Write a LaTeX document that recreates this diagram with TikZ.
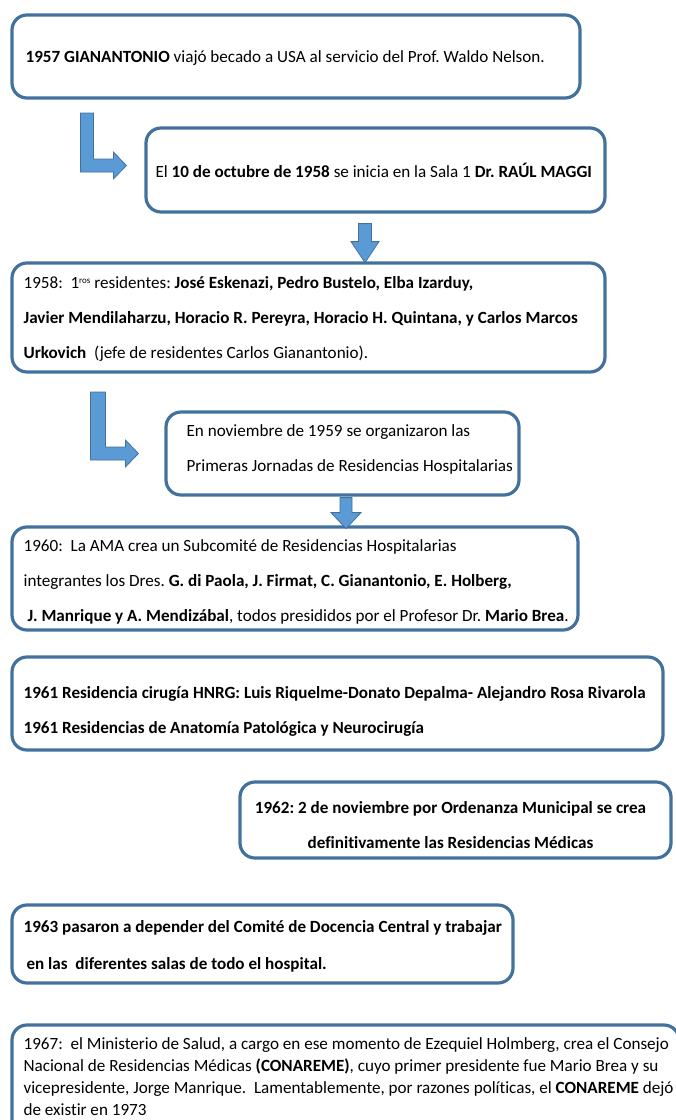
\documentclass[tikz,border=0pt]{standalone}
\usepackage{fontspec}
\setmainfont{Carlito}[Ligatures=NoCommon]
\usetikzlibrary{calc}
\usetikzlibrary{positioning}
\definecolor{boxline}{RGB}{65,113,156}
\definecolor{arrowfill}{RGB}{91,155,213}

\begin{document}
\begin{tikzpicture}[x=1pt, y=-1pt,
        box/.style={draw=boxline, line width=3.2pt, rounded corners=15pt, inner sep=0pt},
        txt/.style={anchor=west, align=left, inner sep=0pt, font=\fontsize{17.1}{35}\selectfont\frenchspacing},
        blockarrow/.style={fill=arrowfill, draw=boxline, line width=0.8pt}]
        \useasboundingbox (0,0) rectangle (676,1120);

        % the boxes
        \node[box, minimum width=568pt, minimum height=83pt] (b1) at (296,56.5) {};
        \node[box, minimum width=459pt, minimum height=84pt] (b2) at (375.5,170) {};
        \node[box, minimum width=593pt, minimum height=109pt] (b3) at (308.5,317.5) {};
        \node[box, minimum width=353pt, minimum height=83pt] (b4) at (342.5,453.5) {};
        \node[box, minimum width=566pt, minimum height=103pt] (b5) at (295,578.5) {};
        \node[box, minimum width=651pt, minimum height=93pt] (b6) at (337.5,703.5) {};
        \node[box, minimum width=431pt, minimum height=76pt] (b7) at (455.5,820) {};
        \node[box, minimum width=501pt, minimum height=78pt] (b8) at (262.5,944) {};
        \node[box, minimum width=667pt, minimum height=125pt] (b9) at (345.5,1087.5) {};

        % the texts
        \node[txt] (t1) at ($(b1.west)+(15,1.5)$) {\textbf{1957 GIANANTONIO} viajó becado a USA al servicio del Prof. Waldo Nelson.};
        \node[txt] (t2) at ($(b2.west)+(11,0)$) {El \textbf{10 de octubre de 1958} se inicia en la Sala 1 \textbf{Dr. RAÚL MAGGI}};
        \node[txt] (t3) at ($(b3.west)+(13,1.5)$) {1958:\ \ 1\raisebox{5pt}{\fontsize{9}{9}\selectfont ros} residentes: \textbf{José Eskenazi, Pedro Bustelo, Elba Izarduy,}\\
            \textbf{Javier Mendilaharzu, Horacio R. Pereyra, Horacio H. Quintana, y Carlos Marcos}\\
            \textbf{Urkovich}\ \ (jefe de residentes Carlos Gianantonio).};
        \node[txt] (t4) at ($(b4.west)+(22,-4)$) {En noviembre de 1959 se organizaron las\\
            Primeras Jornadas de Residencias Hospitalarias};
        \node[txt] (t5) at ($(b5.west)+(13,3)$) {1960:\ \ La AMA crea un Subcomité de Residencias Hospitalarias\\
            integrantes los Dres. \textbf{G. di Paola, J. Firmat, C. Gianantonio, E. Holberg,}\\
            \hspace{4pt}\textbf{J. Manrique y A. Mendizábal}, todos presididos por el Profesor Dr. \textbf{Mario Brea}.};
        \node[txt, font=\fontsize{17.1}{35}\selectfont\frenchspacing\bfseries] (t6) at ($(b6.west)+(13,7.5)$) {1961 Residencia cirugía HNRG: Luis Riquelme-Donato Depalma- Alejandro Rosa Rivarola\\
            1961 Residencias de Anatomía Patológica y Neurocirugía};
        \node[txt, anchor=center, align=center, font=\fontsize{17.1}{35}\selectfont\frenchspacing\bfseries] (t7) at ($(b7.center)+(-5,5.5)$) {1962: 2 de noviembre por Ordenanza Municipal se crea\\
            definitivamente las Residencias Médicas};
        \node[txt, font=\fontsize{17.1}{37}\selectfont\frenchspacing\bfseries] (t8) at ($(b8.west)+(13,2.5)$) {1963 pasaron a depender del Comité de Docencia Central y trabajar\\
            \hspace{3pt}en las\ \ diferentes salas de todo el hospital.};
        \node[txt, anchor=north west, font=\fontsize{17.1}{22}\selectfont\frenchspacing] (t9) at ($(b9.north west)+(13,14.5)$) {1967:\ \ el Ministerio de Salud, a cargo en ese momento de Ezequiel Holmberg, crea el Consejo\\
            Nacional de Residencias Médicas \textbf{(CONAREME)}, cuyo primer presidente fue Mario Brea y su\\
            vicepresidente, Jorge Manrique.\ \ Lamentablemente, por razones políticas, el \textbf{CONAREME} dejó\\
            de existir en 1973};

        % the arrows
        \coordinate (l1) at ($(b2.west)+(-18,-4.5)$);
        \filldraw[blockarrow] (l1) -- ++(-13,-13.5) -- ++(0,7) -- ++(-20,0) -- ++(0,-46)
            -- ++(-13,0) -- ++(0,59) -- ++(33,0) -- ++(0,7) -- cycle;
        \coordinate (d1) at ($(b2.south)+(-10.5,10)$);
        \filldraw[blockarrow] ($(d1)+(-6.5,0)$) -- ++(0,18) -- ++(-7.5,0) -- ++(14,21)
            -- ++(14,-21) -- ++(-7.5,0) -- ++(0,-18) -- cycle;
        \coordinate (l2) at ($(b4.west)+(-26,0)$);
        \filldraw[blockarrow] (l2) -- ++(-13,-13.5) -- ++(0,7) -- ++(-20,0) -- ++(0,-55)
            -- ++(-15,0) -- ++(0,68) -- ++(35,0) -- ++(0,7) -- cycle;
        \coordinate (d2) at ($(b4.south)+(3.5,1)$);
        \filldraw[blockarrow] ($(d2)+(-6,0)$) -- ++(0,15) -- ++(-9,0) -- ++(15,16)
            -- ++(15,-16) -- ++(-9,0) -- ++(0,-15) -- cycle;
\end{tikzpicture}
\end{document}
